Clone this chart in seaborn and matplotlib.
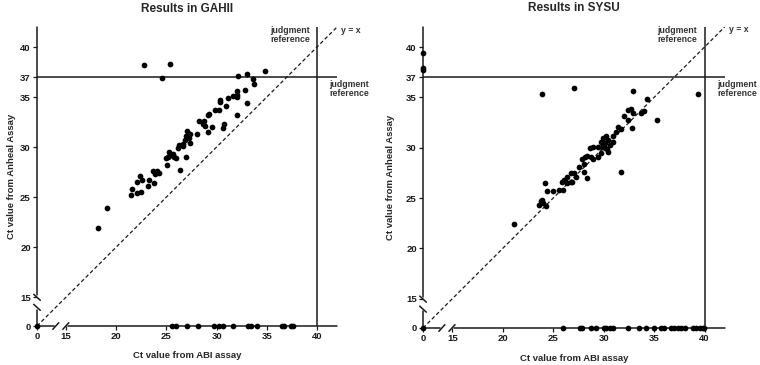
import numpy as np
import pandas as pd
import matplotlib
matplotlib.use('Agg')
import matplotlib.pyplot as plt
import seaborn as sns

sns.set_style('ticks')
plt.rcParams['font.family'] = ['Liberation Sans', 'DejaVu Sans']
plt.rcParams['font.weight'] = 'bold'

# GAHII: samples positive in both assays (ABI Ct, Anheal Ct)
gahii_abi = [22.8, 25.4, 24.6, 32.1, 33.0, 34.8, 33.6, 33.7, 32.8, 32.0, 32.0, 31.6, 32.0,
             31.1, 30.3, 30.3, 30.9, 33.0, 30.2, 29.8, 29.2, 29.1, 32.0, 28.2, 28.7, 28.6,
             28.8, 29.5, 29.1, 30.7, 30.6, 27.1, 27.3, 27.0, 28.0, 27.2, 26.9, 27.3, 26.3,
             26.2, 26.7, 26.7, 25.3, 25.7, 25.8, 25.2, 27.0, 25.3, 25.0, 26.0, 25.1, 26.4,
             23.7, 24.1, 23.9, 24.3, 22.4, 22.1, 22.6, 23.3, 23.8, 23.2, 21.6, 21.5, 22.1,
             22.5, 19.1, 18.2]
gahii_anheal = [38.2, 38.3, 36.9, 37.1, 37.3, 37.6, 36.8, 36.3, 35.7, 35.6, 35.2, 35.1, 35.0,
                34.9, 34.7, 34.5, 34.1, 34.4, 33.7, 33.7, 33.3, 33.2, 33.2, 32.6, 32.6, 32.3,
                32.1, 32.0, 31.5, 32.3, 31.9, 31.6, 31.3, 31.1, 31.3, 30.9, 30.7, 30.4, 30.2,
                29.9, 30.1, 30.3, 29.5, 29.3, 29.0, 29.0, 29.0, 29.1, 28.9, 28.9, 28.2, 27.7,
                27.6, 27.6, 27.3, 27.4, 27.1, 26.5, 26.7, 26.7, 26.4, 26.1, 25.8, 25.2, 25.4,
                25.5, 23.9, 21.9]
# GAHII: ABI Ct of samples negative (0) in Anheal assay
gahii_abi_neg = [0, 25.6, 26.0, 27.1, 28.1, 29.7, 30.2, 30.6, 31.6, 33.1, 33.4, 34.0,
                 36.5, 36.7, 37.4, 37.6]

# SYSU
sysu_abi = [0, 0, 0, 23.9, 27.1, 32.9, 39.4, 34.3, 35.3, 32.7, 32.4, 32.9, 32.0, 32.4, 33.7,
            34.0, 32.8, 31.4, 31.7, 31.2, 30.9, 30.2, 29.9, 30.4, 30.1, 29.7, 30.6, 30.9,
            29.4, 30.1, 28.6, 28.9, 30.4, 29.7, 29.4, 28.4, 28.9, 27.9, 29.8, 30.3, 28.2,
            28.7, 28.1, 27.6, 28.1, 28.4, 27.1, 26.8, 27.3, 26.4, 26.1, 26.8, 25.9, 25.6,
            26.0, 25.0, 24.4, 24.2, 23.8, 23.6, 24.0, 24.3, 21.1, 31.7, 26.2, 26.4, 26.9,
            23.9]
sysu_anheal = [39.4, 37.9, 37.7, 35.3, 35.9, 35.6, 35.3, 34.8, 32.8, 33.8, 33.7, 33.4, 33.1,
               32.8, 33.4, 33.6, 32.0, 32.1, 31.9, 31.6, 31.2, 31.2, 31.0, 30.8, 30.5, 30.6,
               30.3, 30.6, 30.1, 30.0, 30.0, 30.1, 29.6, 29.5, 29.1, 29.2, 28.9, 28.9, 30.1,
               29.9, 29.1, 29.1, 28.4, 28.1, 27.6, 27.0, 27.5, 27.5, 27.1, 27.1, 26.8, 26.6,
               26.6, 25.8, 25.8, 25.7, 25.7, 26.5, 24.7, 24.3, 24.5, 24.2, 22.4, 27.6, 26.7,
               26.5, 26.6, 24.8]
sysu_abi_neg = [0, 26.0, 27.7, 27.9, 28.7, 29.2, 30.0, 30.2, 30.6, 30.9, 32.4, 33.5, 34.2,
                35.0, 35.7, 36.0, 36.7, 37.0, 37.4, 37.7, 38.1, 38.9, 39.2, 39.5, 39.8, 39.9]

ticks_x = [0, 15, 20, 25, 30, 35, 40]
ticks_y = [0, 15, 20, 25, 30, 35, 37, 40]
cutoff = 37
abi_cutoff = 40

# broken axis: 0..15 squeezed into a short stretch
LOW = 12.1
TOP = 42


def fwd(v):
    v = np.asarray(v, dtype=float)
    return np.where(v < 15, LOW + v * (15 - LOW) / 15, v)


def inv(t):
    t = np.asarray(t, dtype=float)
    return np.where(t < 15, (t - LOW) * 15 / (15 - LOW), t)


def frac(t):
    return (t - LOW) / (TOP - LOW)


ink = '#1a1a1a'


def draw_panel(ax, abi, anheal, abi_neg, title):
    df = pd.DataFrame({'abi': abi + abi_neg,
                       'anheal': anheal + [0] * len(abi_neg)})
    ax.set_xscale('function', functions=(fwd, inv))
    ax.set_yscale('function', functions=(fwd, inv))

    sns.scatterplot(data=df, x='abi', y='anheal', ax=ax, color='black', s=17,
                    linewidth=0, clip_on=False, zorder=5)

    ax.axhline(cutoff, color=ink, lw=1.1)
    ax.axvline(abi_cutoff, color=ink, lw=1.1)
    ax.plot([0, TOP], [0, TOP], color=ink, lw=0.9, ls=(0, (3, 2)))

    ax.set_xlim(0, TOP)
    ax.set_ylim(0, TOP)
    ax.set_xticks(ticks_x)
    ax.set_yticks(ticks_y)
    ax.set_xticklabels([str(t) for t in ticks_x])
    ax.set_yticklabels([str(t) for t in ticks_y])
    ax.minorticks_off()
    ax.tick_params(direction='out', length=3, width=0.9, labelsize=6.8,
                   colors=ink, pad=1.5)

    # axis lines with break marks
    for s in ax.spines.values():
        s.set_visible(False)
    lo, hi = frac(13.75), frac(15.2)
    kw = dict(transform=ax.transAxes, color=ink, lw=1.1, clip_on=False)
    ax.plot([0, 0], [0, lo], **kw)
    ax.plot([0, 0], [hi, 1], **kw)
    ax.plot([0, lo], [0, 0], **kw)
    ax.plot([hi, 1], [0, 0], **kw)
    for c in (frac(13.97), frac(14.97)):
        ax.plot([-0.011, 0.011], [c + 0.01, c - 0.01], **kw)
        ax.plot([c - 0.01, c + 0.01], [-0.011, 0.011], **kw)

    ax.set_xlabel('Ct value from ABI assay', fontsize=6.8, fontweight='bold')
    ax.set_ylabel('Ct value from Anheal Assay', fontsize=6.8, fontweight='bold')
    ax.xaxis.set_label_coords(0.5, -0.085)

    ax.text(0.5, 1.062, title, transform=ax.transAxes, ha='center', va='center',
            fontsize=8.5, fontweight='bold')
    ax.text(37.3, 41.2, 'judgment\nreference', ha='center', va='center',
            fontsize=6.3, fontweight='bold', color='#333333', linespacing=1.0)
    ax.text(43.2, 35.8, 'judgment\nreference', ha='center', va='center',
            fontsize=6.3, fontweight='bold', color='#333333', linespacing=1.0)
    ax.text(43.4, 41.7, 'y = x', ha='center', va='center',
            fontsize=6.3, fontweight='bold', color='#333333')


fig = plt.figure(figsize=(7.6, 3.65), dpi=100)
ax1 = fig.add_axes([0.0487, 0.1068, 0.3947, 0.819])
ax2 = fig.add_axes([0.5566, 0.1014, 0.397, 0.825])

draw_panel(ax1, gahii_abi, gahii_anheal, gahii_abi_neg, 'Results in GAHII')
draw_panel(ax2, sysu_abi, sysu_anheal, sysu_abi_neg, 'Results in SYSU')
ax1.yaxis.set_label_coords(-0.07, 0.5)
ax2.yaxis.set_label_coords(-0.093, 0.5)

fig.savefig('out.png', dpi=100)
